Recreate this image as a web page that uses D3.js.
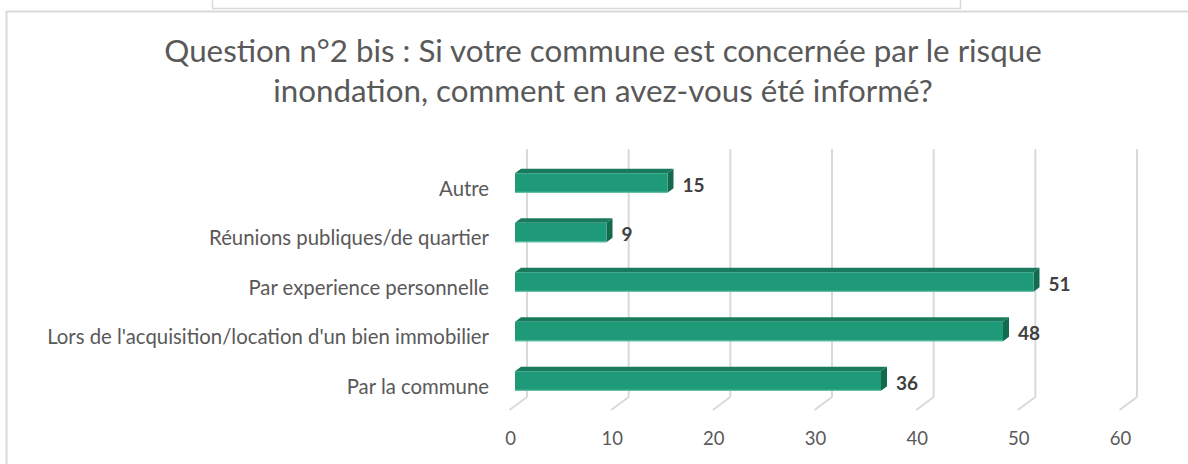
<!DOCTYPE html>
<html>
<head>
<meta charset="utf-8">
<script src="https://cdn.jsdelivr.net/npm/d3@7"></script>
<style>
  html, body { margin: 0; padding: 0; background: #fff; }
  svg { display: block; font-family: Lato, "Open Sans", sans-serif; }
</style>
</head>
<body>
<div class="chart-wrapper"></div>
<script>
// data
const categories = [
    "Autre",
    "Réunions publiques/de quartier",
    "Par experience personnelle",
    "Lors de l'acquisition/location d'un bien immobilier",
    "Par la commune"
];
const values = [15, 9, 51, 48, 36];
const tickValues = [0, 10, 20, 30, 40, 50, 60];
const titleLines = [
    "Question n°2 bis : Si votre commune est concernée par le risque",
    "inondation, comment en avez-vous été informé?"
];

const width = 1188, height = 464;
const textColor = "#595959";
const gridColor = "#d9d9d9";

// 3d depth of the plot box (front floor -> back wall)
const depth = { dx: 17.5, dy: -13 };
// bar sits inside that depth
const barFront = 0.314, barDepth = 0.343;

const svg = d3.select(".chart-wrapper")
    .append("svg")
    .attr("width", width)
    .attr("height", height);

// piece of the box above the chart
svg.append("rect")
    .attr("x", 212.5).attr("y", -4)
    .attr("width", 748).attr("height", 12.5)
    .attr("fill", "#fff")
    .attr("stroke", gridColor)
    .attr("stroke-width", 1.5);

// chart frame
svg.append("rect")
    .attr("x", 6.5).attr("y", 11.5)
    .attr("width", 1200).attr("height", 480)
    .attr("fill", "#fff")
    .attr("stroke", gridColor)
    .attr("stroke-width", 2);

// scales (x on the front floor edge)
const x = d3.scaleLinear()
    .domain([0, 60])
    .range([509.5, 1119.5]);

const y = d3.scaleBand()
    .domain(categories)
    .range([158.25, 405.75])
    .paddingInner(0.606)
    .paddingOuter(0.303);

const floorY = 410;
const wallTop = 149;

// back wall gridlines + floor diagonals
const grid = svg.append("g").attr("class", "grid");
grid.selectAll(".wall-line")
    .data(tickValues)
    .enter()
    .append("line")
    .attr("x1", d => x(d) + depth.dx)
    .attr("x2", d => x(d) + depth.dx)
    .attr("y1", wallTop)
    .attr("y2", floorY + depth.dy)
    .attr("stroke", gridColor)
    .attr("stroke-width", 2);

grid.selectAll(".floor-line")
    .data(tickValues)
    .enter()
    .append("line")
    .attr("x1", d => x(d) + depth.dx)
    .attr("y1", floorY + depth.dy)
    .attr("x2", d => x(d))
    .attr("y2", floorY)
    .attr("stroke", gridColor)
    .attr("stroke-width", 2);

// x tick labels
svg.append("g")
    .selectAll("text")
    .data(tickValues)
    .enter()
    .append("text")
    .attr("x", d => x(d) + 1)
    .attr("y", 438)
    .attr("dy", "0.36em")
    .attr("text-anchor", "middle")
    .attr("fill", textColor)
    .style("font-size", "18.5px")
    .text(d => d);

// bars
const ox = barFront * depth.dx, oy = barFront * depth.dy;
const bx = barDepth * depth.dx, by = barDepth * depth.dy;
const rows = categories.map((c, i) => ({ cat: c, val: values[i] }));

const bars = svg.append("g")
    .selectAll("g")
    .data(rows)
    .enter()
    .append("g");

// top face
bars.append("path")
    .attr("fill", "#197a5d")
    .attr("d", d => {
        const x0 = x(0) + ox, x1 = x(d.val) + ox, y0 = y(d.cat);
        return `M${x0},${y0} L${x0 + bx},${y0 + by} L${x1 + bx},${y0 + by} L${x1},${y0} Z`;
    });

// side face
bars.append("path")
    .attr("fill", "#136a4f")
    .attr("d", d => {
        const x1 = x(d.val) + ox, y0 = y(d.cat), y1 = y0 + y.bandwidth();
        return `M${x1},${y0} L${x1 + bx},${y0 + by} L${x1 + bx},${y1 + by} L${x1},${y1} Z`;
    });

// front face
bars.append("rect")
    .attr("x", x(0) + ox)
    .attr("y", d => y(d.cat))
    .attr("width", d => x(d.val) - x(0))
    .attr("height", y.bandwidth())
    .attr("fill", "#1e9a78");

// light lower edge
bars.append("line")
    .attr("x1", x(0) + ox)
    .attr("x2", d => x(d.val) + ox)
    .attr("y1", d => y(d.cat) + y.bandwidth() - 0.5)
    .attr("y2", d => y(d.cat) + y.bandwidth() - 0.5)
    .attr("stroke", "#6cc3a8")
    .attr("stroke-width", 1);

// value labels
bars.append("text")
    .attr("x", d => x(d.val) + ox + bx + 9)
    .attr("y", d => y(d.cat) + y.bandwidth() / 2 + 2)
    .attr("dy", "0.36em")
    .attr("fill", "#404040")
    .style("font-size", "19px")
    .style("font-weight", "bold")
    .text(d => d.val);

// category labels
const catLabels = svg.append("g")
    .selectAll("text")
    .data(categories)
    .enter()
    .append("text")
    .attr("x", 489)
    .attr("y", d => y(d) + y.bandwidth() / 2 + 5.5)
    .attr("dy", "0.36em")
    .attr("text-anchor", "end")
    .attr("fill", textColor)
    .style("font-size", "16px")
    .text(d => d);

// fit label size to the picture's longest label
const longest = d3.max(catLabels.nodes(), n => n.getComputedTextLength());
catLabels.style("font-size", (16 * 442 / longest) + "px");

// title
const title = svg.append("g")
    .selectAll("text")
    .data(titleLines)
    .enter()
    .append("text")
    .attr("x", 603)
    .attr("y", (d, i) => 62 + i * 40)
    .attr("text-anchor", "middle")
    .attr("fill", textColor)
    .style("font-size", "26px")
    .text(d => d);

const titleWidth = title.nodes()[0].getComputedTextLength();
title.style("font-size", (26 * 878 / titleWidth) + "px");
</script>
</body>
</html>
